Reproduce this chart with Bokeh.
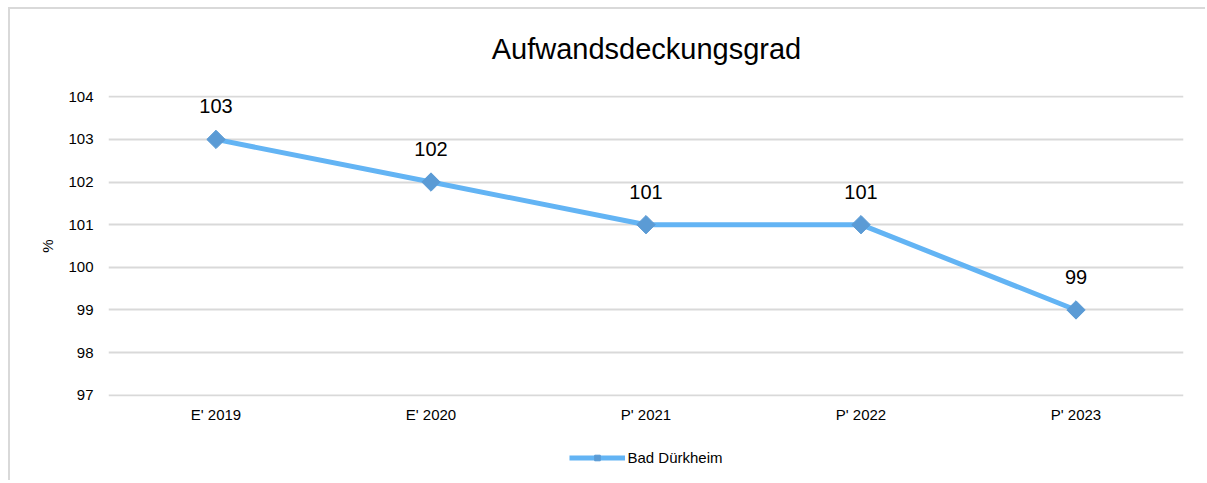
from bokeh.plotting import figure
from bokeh.layouts import column
from bokeh.models import Range1d, FactorRange, Legend, LegendItem, ColumnDataSource, Label
from bokeh.core.properties import value
from bokeh.embed import file_html
from bokeh.resources import INLINE
import math

categories = ["E' 2019", "E' 2020", "P' 2021", "P' 2022", "P' 2023"]
values = [103, 102, 101, 101, 99]
labels = ["103", "102", "101", "101", "99"]
series_name = "Bad Dürkheim"
title_text = "Aufwandsdeckungsgrad"

FONT = "Liberation Sans"
LINE_COLOR = "#63b4f4"
MARKER_COLOR = "#5b9bd5"
GRID = "#d9d9d9"

src = ColumnDataSource(dict(x=categories, y=values, t=labels))

# title strip
tf = figure(width=1195, height=60, x_range=Range1d(0, 1195), y_range=Range1d(0, 60),
            output_backend="svg", toolbar_location=None,
            min_border_left=0, min_border_right=0, min_border_top=0, min_border_bottom=0)
tf.axis.visible = False
tf.grid.visible = False
tf.outline_line_color = None
tf.add_layout(Label(x=598, y=21, text=title_text, text_font=FONT, text_font_size="29px",
                    text_align="center", text_baseline="middle", text_color="#000000"))

# main chart
p = figure(width=1195, height=361, x_range=FactorRange(*categories),
           y_range=Range1d(96.97, 104.03), output_backend="svg", toolbar_location=None,
           min_border_left=98, min_border_right=22, min_border_top=26, min_border_bottom=34)
p.outline_line_color = None

p.xgrid.grid_line_color = None
p.ygrid.grid_line_color = GRID
p.ygrid.grid_line_width = 2

p.yaxis.ticker = list(range(97, 105))
p.yaxis.axis_line_color = None
p.yaxis.major_tick_line_color = None
p.yaxis.minor_tick_line_color = None
p.yaxis.major_tick_out = 0
p.yaxis.major_label_standoff = 15
p.yaxis.major_label_text_font = FONT
p.yaxis.major_label_text_font_size = "15px"
p.yaxis.major_label_text_color = "#000000"
p.yaxis.axis_label = "%"
p.yaxis.axis_label_text_font = FONT
p.yaxis.axis_label_text_font_size = "15px"
p.yaxis.axis_label_text_font_style = "normal"
p.yaxis.axis_label_text_color = "#000000"
p.yaxis.axis_label_standoff = 9

p.xaxis.axis_line_color = None
p.xaxis.major_tick_line_color = None
p.xaxis.major_tick_out = 0
p.xaxis.major_label_standoff = 9
p.xaxis.major_label_text_font = FONT
p.xaxis.major_label_text_font_size = "15px"
p.xaxis.major_label_text_color = "#000000"

ln = p.line("x", "y", source=src, line_color=LINE_COLOR, line_width=5)
mk = p.scatter("x", "y", source=src, marker="square", angle=math.pi / 4, size=13,
               fill_color=MARKER_COLOR, line_color=MARKER_COLOR)

p.text("x", "y", text="t", source=src, text_font=value(FONT), text_font_size="20px",
       text_align="center", text_baseline="middle", y_offset=-33, text_color="#000000")

# legend strip below the chart (same series, drawn out of view; only the legend shows)
lg = figure(width=1195, height=50, x_range=FactorRange(*categories), y_range=Range1d(1000, 1001),
            output_backend="svg", toolbar_location=None,
            min_border_left=6, min_border_right=0, min_border_top=4, min_border_bottom=0)
lg.axis.visible = False
lg.grid.visible = False
lg.outline_line_color = None
lln = lg.line("x", "y", source=src, line_color=LINE_COLOR, line_width=5)
lmk = lg.scatter("x", "y", source=src, marker="square", angle=math.pi / 4, size=13,
                 fill_color=MARKER_COLOR, line_color=MARKER_COLOR)
legend = Legend(items=[LegendItem(label=series_name, renderers=[lln, lmk])],
                location="center", orientation="horizontal", glyph_width=56, glyph_height=14,
                label_text_font=FONT, label_text_font_size="15px", label_text_color="#000000",
                padding=0, margin=0, border_line_color=None, background_fill_alpha=0,
                label_standoff=3)
lg.add_layout(legend, "center")

layout = column(tf, p, lg, spacing=0, margin=(7, 0, 0, 8))
layout.styles = {"border-left": "2px solid #d9d9d9", "border-top": "2px solid #d9d9d9",
                 "border-right": "0px none", "border-bottom": "0px none"}

open("out.html", "w").write(file_html(layout, INLINE))
